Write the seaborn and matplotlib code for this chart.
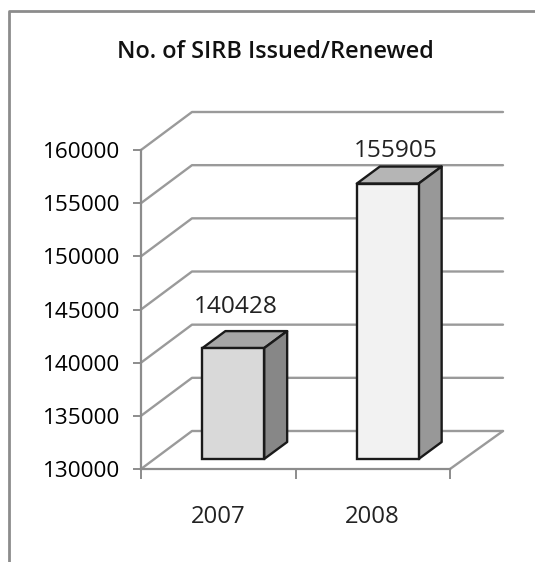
import matplotlib
matplotlib.use("Agg")
import matplotlib.pyplot as plt
import matplotlib.transforms as mtrans
from matplotlib.lines import Line2D
from matplotlib.patches import Polygon
import pandas as pd
import seaborn as sns

years = ["2007", "2008"]
issued = [140428, 155905]
bar_colors = ["#d9d9d9", "#f2f2f2"]
side_colors = ["#878787", "#989898"]
top_colors = ["#a6a6a6", "#b5b5b5"]
y_ticks = [130000, 135000, 140000, 145000, 150000, 155000, 160000]
title = "No. of SIRB Issued/Renewed"
label_shift = [(3, 41), (8.5, 33)]

W, H = 535, 562
sns.set_theme(style="white")
plt.rcParams["font.family"] = ["Open Sans", "DejaVu Sans"]
fig = plt.figure(figsize=(W / 100, H / 100), dpi=100)
L, R, T, B = 141, 450, 150, 469
ax = fig.add_axes([L / W, 1 - B / H, (R - L) / W, (B - T) / H])

df = pd.DataFrame({"year": years, "issued": issued})
sns.barplot(data=df, x="year", y="issued", hue="year", palette=bar_colors, legend=False,
            width=0.4, ax=ax, edgecolor="#1a1a1a", linewidth=1.7, zorder=5, saturation=1)
ax.set_ylim(y_ticks[0], y_ticks[-1])
ax.set_xlim(-0.5, 1.5)
ax.set_xlabel("")
ax.set_ylabel("")
ax.set_yticks(y_ticks)
ax.patch.set_alpha(0)
for s in ("top", "right"):
    ax.spines[s].set_visible(False)
for s in ("left", "bottom"):
    ax.spines[s].set_color("#8c8c8c")
    ax.spines[s].set_linewidth(1.6)
ax.tick_params(axis="y", left=True, length=6, width=1.4, color="#8c8c8c", pad=9,
               labelsize=16.2, labelcolor="#000000")
for lbl in ax.get_yticklabels():
    lbl.set_fontweight("medium")
ax.set_xticks([-0.5, 0.5, 1.5], minor=True)
ax.tick_params(axis="x", which="minor", bottom=True, length=7, width=1.4, color="#8c8c8c")
ax.tick_params(axis="x", which="major", bottom=False, pad=20, labelsize=17.2, labelcolor="#222222")

# depth of the 3-D box, pixels
DX, DY = 51, -38
grid_kw = dict(color="#9a9a9a", lw=1.7, clip_on=False, zorder=1)
x_l, x_r = ax.get_xlim()
inv = ax.transData.inverted()
for v in y_ticks:
    a = ax.transData.transform((x_l, v))
    b = a + [DX, -DY]
    c = ax.transData.transform((x_r, v)) + [DX + 2, -DY]
    pts = inv.transform([a, b, c])
    ax.add_line(Line2D(pts[:, 0], pts[:, 1], **grid_kw))
# floor front-right edge
a = ax.transData.transform((x_r, y_ticks[0]))
pts = inv.transform([a, a + [DX + 2, -DY]])
ax.add_line(Line2D(pts[:, 0], pts[:, 1], **grid_kw))

# bars stand inside the box: shift front faces and give them depth
FX, FY = 15, -10
BX, BY = 23, -17
shift = mtrans.Affine2D().translate(FX, -FY)
for i, (p, v) in enumerate(zip(ax.patches, issued)):
    p.set_y(y_ticks[0])
    p.set_height(v - y_ticks[0])
    p.set_clip_on(False)
    p.set_transform(ax.transData + shift)
    x0, x1 = p.get_x(), p.get_x() + p.get_width()
    f = ax.transData.transform([(x0, y_ticks[0]), (x1, y_ticks[0]), (x1, v), (x0, v)]) + [FX, -FY]
    top = [f[3], f[2], f[2] + [BX, -BY], f[3] + [BX, -BY]]
    side = [f[1], f[2], f[2] + [BX, -BY], f[1] + [BX, -BY]]
    for poly, col in ((top, top_colors[i]), (side, side_colors[i])):
        ax.add_patch(Polygon(inv.transform(poly), closed=True, facecolor=col, edgecolor="#1a1a1a",
                             linewidth=1.7, clip_on=False, zorder=4, joinstyle="round"))
    lab = (f[3] + f[2]) / 2 + list(label_shift[i])
    ax.annotate(str(v), xy=inv.transform(lab), ha="center", va="center", fontsize=17.6,
                color="#222222", annotation_clip=False, zorder=6)

fig.text(275.5 / W, 1 - 52 / H, title, ha="center", va="center", fontsize=16.9, fontweight="semibold",
         color="#111111")
# outer chart frame
fig.add_artist(Line2D([9 / W, 9 / W, 1], [0, 1 - 11 / H, 1 - 11 / H], color="#8c8c8c", lw=2,
                      transform=fig.transFigure))
fig.savefig("out.png", dpi=100)
